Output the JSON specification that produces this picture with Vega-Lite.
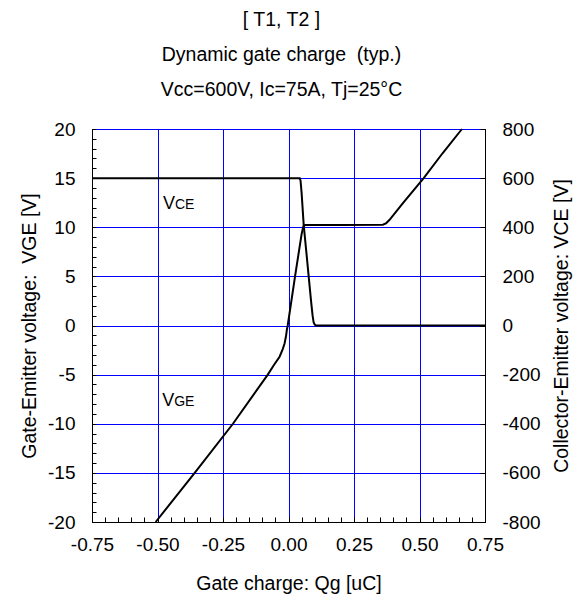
{
  "$schema": "https://vega.github.io/schema/vega-lite/v6.json",
  "width": 393,
  "height": 393,
  "autosize": {"type": "none"},
  "padding": {"left": 92, "top": 129, "right": 97, "bottom": 73},
  "background": "white",
  "title": {
    "text": ["[ T1, T2 ]", "Dynamic gate charge \u00a0(typ.)", "Vcc=600V, Ic=75A, Tj=25°C"],
    "font": "Liberation Sans",
    "fontSize": 19.5,
    "fontWeight": "normal",
    "color": "black",
    "lineHeight": 35,
    "anchor": "middle",
    "offset": 20,
    "dx": -7
  },
  "config": {
    "view": {"stroke": "black", "strokeWidth": 1},
    "axis": {
      "labelFont": "Liberation Sans",
      "titleFont": "Liberation Sans",
      "labelFontSize": 19,
      "titleFontSize": 19.5,
      "titleFontWeight": "normal",
      "labelColor": "black",
      "titleColor": "black",
      "domainColor": "black",
      "tickColor": "black",
      "gridColor": "#0000ff",
      "gridWidth": 1,
      "labelOverlap": false,
      "labelFlush": false,
      "labelBound": false,
      "tickCount": 200
    }
  },
  "datasets": {
    "vge": [
      {"q": -0.507, "v": -20},
      {"q": -0.358, "v": -15},
      {"q": -0.212, "v": -10},
      {"q": -0.079, "v": -5},
      {"q": -0.055, "v": -4},
      {"q": -0.034, "v": -3.18},
      {"q": -0.022, "v": -2.4},
      {"q": -0.015, "v": -1.83},
      {"q": -0.009, "v": -1.0},
      {"q": -0.006, "v": -0.4},
      {"q": -0.003, "v": 0},
      {"q": 0.025, "v": 5},
      {"q": 0.05, "v": 9.3},
      {"q": 0.055, "v": 9.9},
      {"q": 0.058, "v": 10.15},
      {"q": 0.063, "v": 10.22},
      {"q": 0.2, "v": 10.24},
      {"q": 0.36, "v": 10.26},
      {"q": 0.372, "v": 10.4},
      {"q": 0.385, "v": 10.73},
      {"q": 0.436, "v": 12.43},
      {"q": 0.516, "v": 15},
      {"q": 0.588, "v": 17.53},
      {"q": 0.662, "v": 20}
    ],
    "vce": [
      {"q": -0.75, "v": 600},
      {"q": 0.043, "v": 600},
      {"q": 0.046, "v": 590},
      {"q": 0.05, "v": 540},
      {"q": 0.058, "v": 410},
      {"q": 0.068, "v": 300},
      {"q": 0.077, "v": 200},
      {"q": 0.086, "v": 100},
      {"q": 0.092, "v": 40},
      {"q": 0.096, "v": 12},
      {"q": 0.1, "v": 4},
      {"q": 0.105, "v": 0},
      {"q": 0.75, "v": 0}
    ],
    "labels": [
      {"q": -0.479, "v": 11.85, "main": "V", "sub": "CE"},
      {"q": -0.482, "v": -8.2, "main": "V", "sub": "GE"}
    ]
  },
  "layer": [
    {
      "layer": [
        {
          "data": {"name": "vge"},
          "mark": {"type": "line", "color": "black", "strokeWidth": 2},
          "encoding": {
            "x": {
              "field": "q",
              "type": "quantitative",
              "scale": {"domain": [-0.75, 0.75], "nice": false},
              "axis": {
                "title": "Gate charge: Qg [uC]",
                "values": [-0.75, -0.7, -0.65, -0.6, -0.55, -0.5, -0.45, -0.4, -0.35, -0.3, -0.25, -0.2, -0.15, -0.1, -0.05, 0, 0.05, 0.1, 0.15, 0.2, 0.25, 0.3, 0.35, 0.4, 0.45, 0.5, 0.55, 0.6, 0.65, 0.7, 0.75],
                "tickCount": 200,
                "labelExpr": "abs(datum.value*4 - round(datum.value*4)) < 0.000001 ? (datum.value < 0 ? '-' : '') + format(abs(datum.value), '.2f') : ''",
                "tickSize": -5,
                "labelPadding": 18,
                "titlePadding": 20,
                "gridOpacity": {"condition": {"test": "abs(datum.value*4 - round(datum.value*4)) < 0.000001", "value": 1}, "value": 0}
              }
            },
            "y": {
              "field": "v",
              "type": "quantitative",
              "scale": {"domain": [-20, 20], "nice": false},
              "axis": {
                "title": "Gate-Emitter voltage: \u00a0VGE [V]",
                "values": [-20, -19, -18, -17, -16, -15, -14, -13, -12, -11, -10, -9, -8, -7, -6, -5, -4, -3, -2, -1, 0, 1, 2, 3, 4, 5, 6, 7, 8, 9, 10, 11, 12, 13, 14, 15, 16, 17, 18, 19, 20],
                "tickCount": 200,
                "labelExpr": "datum.value % 5 == 0 ? '' + datum.value : ''",
                "tickSize": -4,
                "labelPadding": 21,
                "titlePadding": 8,
                "gridOpacity": {"condition": {"test": "datum.value % 5 == 0", "value": 1}, "value": 0}
              }
            }
          }
        },
        {
          "data": {"name": "labels"},
          "mark": {"type": "text", "align": "left", "baseline": "alphabetic", "font": "Liberation Sans", "fontSize": 18, "color": "black"},
          "encoding": {
            "x": {"field": "q", "type": "quantitative"},
            "y": {"field": "v", "type": "quantitative"},
            "text": {"field": "main"}
          }
        },
        {
          "data": {"name": "labels"},
          "mark": {"type": "text", "align": "left", "baseline": "alphabetic", "font": "Liberation Sans", "fontSize": 14, "dx": 12, "color": "black"},
          "encoding": {
            "x": {"field": "q", "type": "quantitative"},
            "y": {"field": "v", "type": "quantitative"},
            "text": {"field": "sub"}
          }
        }
      ]
    },
    {
      "data": {"name": "vce"},
      "mark": {"type": "line", "color": "black", "strokeWidth": 2},
      "encoding": {
        "x": {"field": "q", "type": "quantitative"},
        "y": {
          "field": "v",
          "type": "quantitative",
          "scale": {"domain": [-800, 800], "nice": false},
          "axis": {
            "orient": "right",
            "title": "Collector-Emitter voltage: VCE [V]",
            "titleAngle": 270,
            "titleBaseline": "top",
            "values": [-800, -600, -400, -200, 0, 200, 400, 600, 800],
            "tickCount": 200,
            "labelExpr": "'' + datum.value",
            "labelAlign": "left",
            "tickSize": -5,
            "labelPadding": 22,
            "titlePadding": 12,
            "grid": false
          }
        }
      }
    }
  ],
  "resolve": {"scale": {"y": "independent"}}
}
